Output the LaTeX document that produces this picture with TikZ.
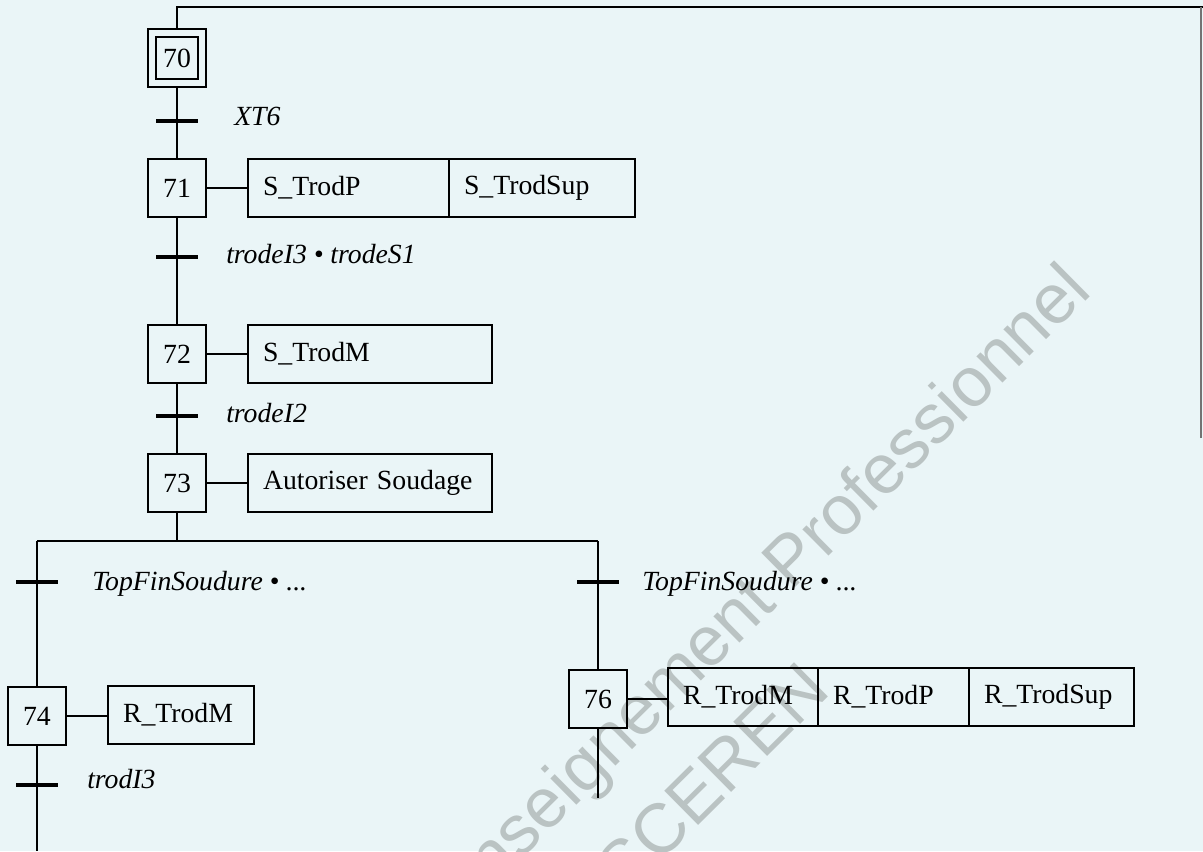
\documentclass[tikz,border=0pt]{standalone}
\usepackage{fontspec}
\setmainfont{Liberation Serif}
\newfontfamily\wmfont{Liberation Sans}
\usetikzlibrary{calc}
\definecolor{bgc}{RGB}{234,245,247}
\definecolor{wmc}{RGB}{186,195,195}
\begin{document}
\begin{tikzpicture}[x=0.75pt,y=-0.75pt,
  every node/.style={font=\fontsize{20.8pt}{25pt}\selectfont},
  ln/.style={line width=1.3pt},
  stepbox/.style={draw, line width=1.3pt, minimum width=43.5pt, minimum height=43.5pt, inner sep=0pt},
  innerbox/.style={draw, line width=1.3pt, minimum width=31.5pt, minimum height=31.5pt, inner sep=0pt},
  actcell/.style={draw, line width=1.3pt, anchor=west, outer sep=0pt, minimum height=43.5pt, inner xsep=11.25pt, inner ysep=0pt, align=left},
  tbar/.style={line width=3pt},
  tlabel/.style={anchor=base west, inner sep=0pt, font=\fontsize{20.8pt}{25pt}\selectfont\itshape},
  wm/.style={text=wmc, font=\fontsize{52.5pt}{60pt}\wmfont, inner sep=0pt, rotate=44.7}]

\useasboundingbox (0,0) rectangle (1203,851);
\clip (0,0) rectangle (1203,851);
\fill[bgc] (0,0) rectangle (1203,851);

% watermark
\node[wm] (wm1) at (764,594) {Enseignement Professionnel};
\node[wm] (wm2) at (712,778) {SCEREN};

% steps
\node[stepbox] (s70) at (177,58) {};
\node[innerbox] (s70i) at (177,58) {70};
\node[stepbox] (s71) at (177,188) {71};
\node[stepbox] (s72) at (177,354) {72};
\node[stepbox] (s73) at (177,483) {73};
\node[stepbox] (s74) at (37,716) {74};
\node[stepbox] (s76) at (598,699) {76};

% actions
\node[actcell, text width=128.25pt] (a71a) at (248,188) {S\_TrodP};
\node[actcell, text width=117pt] (a71b) at (a71a.east) {S\_TrodSup};
\node[actcell, text width=160.5pt] (a72) at (248,354) {S\_TrodM};
\node[actcell, text width=160.5pt] (a73) at (248,483) {Autoriser Soudage};
\node[actcell, text width=87pt] (a74) at (108,715) {R\_TrodM};
\node[actcell, text width=90pt] (a76a) at (668,697) {R\_TrodM};
\node[actcell, text width=90.75pt] (a76b) at (a76a.east) {R\_TrodP};
\node[actcell, text width=101.25pt] (a76c) at (a76b.east) {R\_TrodSup};

% action links
\draw[ln] (s71.east) -- (s71.east -| a71a.west);
\draw[ln] (s72.east) -- (s72.east -| a72.west);
\draw[ln] (s73.east) -- (s73.east -| a73.west);
\draw[ln] (s74.east) -- (s74.east -| a74.west);
\draw[ln] (s76.east) -- (s76.east -| a76a.west);

% top loop
\coordinate (top1) at (177,7);
\coordinate (top2) at (1203,7);
\coordinate (rtop) at (1201,7);
\coordinate (rbot) at (1201,438);
\draw[ln] (s70.north) -- (top1) -- (top2);
\draw[line width=0.8pt, black!55] (rtop) -- (rbot);

% main links
\draw[ln] (s70) -- (s71);
\draw[ln] (s71) -- (s72);
\draw[ln] (s72) -- (s73);
\coordinate (dv) at (177,541);
\coordinate (dl) at (37,541);
\coordinate (dr) at (598,541);
\draw[ln] (s73) -- (dv);
\draw[ln] (dl) -- (dr);
\draw[ln] (dl) -- (s74);
\draw[ln] (dr) -- (s76);
\coordinate (e74) at (37,851);
\coordinate (e76) at (598,798);
\draw[ln] (s74) -- (e74);
\draw[ln] (s76) -- (e76);

% transitions
\coordinate (t1) at (177,121);
\coordinate (t2) at (177,257);
\coordinate (t3) at (177,416);
\coordinate (t4) at (37,582);
\coordinate (t5) at (598,582);
\coordinate (t6) at (37,785);
\foreach \t in {t1,t2,t3,t4,t5,t6}
  \draw[tbar] ([xshift=-15.75pt]\t) -- ([xshift=15.75pt]\t);

% receptivities
\node[tlabel] (l1) at (234,125) {XT6};
\node[tlabel] (l2) at (226,263) {trodeI3 \textbullet{} trodeS1};
\node[tlabel] (l3) at (226,422) {trodeI2};
\node[tlabel] (l4) at (92,590) {TopFinSoudure \textbullet{} ...};
\node[tlabel] (l5) at (642,590) {TopFinSoudure \textbullet{} ...};
\node[tlabel] (l6) at (87,788) {trodI3};
\end{tikzpicture}
\end{document}
